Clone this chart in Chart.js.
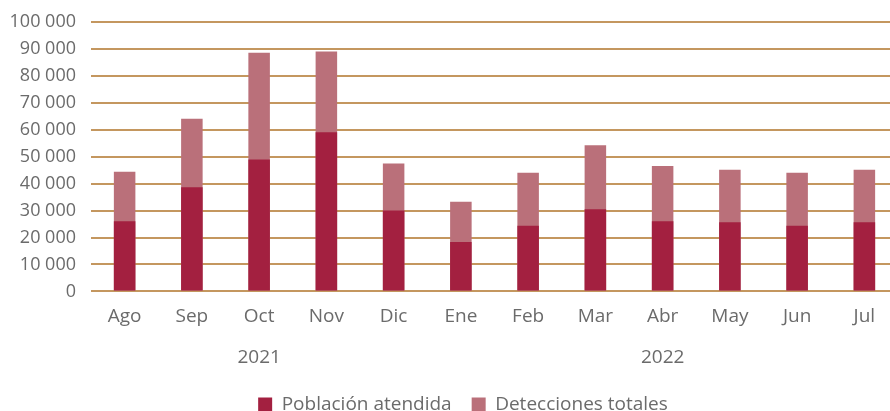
<!DOCTYPE html>
<html>
<head>
<meta charset="utf-8">
<script src="https://cdn.jsdelivr.net/npm/chart.js@4/dist/chart.umd.min.js"></script>
<style>
  html,body{margin:0;padding:0;background:#fff;overflow:hidden;}
  #wrap{width:898px;height:411px;}
</style>
</head>
<body>
<div id="wrap"><canvas id="chart"></canvas></div>
<script>
/* ---------- datos ---------- */
const meses = ['Ago','Sep','Oct','Nov','Dic','Ene','Feb','Mar','Abr','May','Jun','Jul'];
const anios = ['','','2021','','','','','','2022','','',''];
const poblacionAtendida   = [26000,38600,48900,59000,30000,18300,24400,30500,26000,25700,24400,25700];
const deteccionesTotales  = [44400,64000,88500,89000,47400,33300,44000,54200,46500,45100,44000,45100];

const GRIS = '#6b6b6b';
const fmt = v => String(v).replace(/\B(?=(\d{3})+(?!\d))/g,' ');

/* mover la leyenda un poco a la derecha, como en el original */
const moverLeyenda = {
  id:'moverLeyenda',
  afterLayout(chart){ const l=chart.legend; if(l){ l.left+=14; l.right+=14; } }
};

new Chart(document.getElementById('chart').getContext('2d'),{
  type:'bar',
  data:{
    labels: meses,
    datasets:[
      { label:'Población atendida',  data:poblacionAtendida,  backgroundColor:'#A32040' },
      { label:'Detecciones totales', data:deteccionesTotales, backgroundColor:'#BA707A' }
    ]
  },
  plugins:[moverLeyenda],
  options:{
    responsive:true, maintainAspectRatio:false, animation:false,
    layout:{ padding:{ left:0, right:0, top:0, bottom:-13 } },
    datasets:{ bar:{ barPercentage:0.32, categoryPercentage:1 } },
    plugins:{
      tooltip:{ enabled:false },
      legend:{
        position:'bottom',
        labels:{ color:GRIS, font:{ family:'Open Sans', size:19 }, boxWidth:14, boxHeight:14, padding:20 }
      }
    },
    scales:{
      x:{
        stacked:true,
        grid:{ display:false },
        border:{ display:false },
        ticks:{
          color:GRIS, padding:7, maxRotation:0, autoSkip:false,
          font:{ family:'Open Sans', size:19, lineHeight:1.08 },
          callback:(v,i)=> anios[i] ? [meses[i],'',anios[i]] : meses[i]
        }
      },
      y:{
        stacked:false,
        min:0, max:100000,
        afterFit: s => { s.width = 91; },
        grid:{ color:'#C4975F', lineWidth:2, drawTicks:false },
        border:{ display:false },
        ticks:{ stepSize:10000, color:GRIS, padding:15, font:{ family:'Open Sans', size:18, lineHeight:0.75 }, callback:v=>fmt(v) }
      }
    }
  }
});
</script>
</body>
</html>
